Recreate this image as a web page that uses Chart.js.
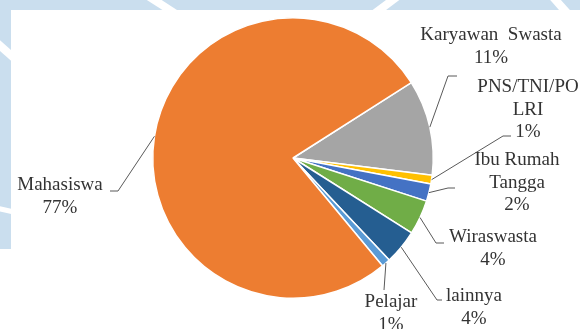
<!DOCTYPE html>
<html>
<head>
<meta charset="utf-8">
<script src="https://cdn.jsdelivr.net/npm/chart.js@4/dist/chart.umd.min.js"></script>
<style>
  html, body { margin: 0; padding: 0; }
  body { width: 580px; height: 329px; position: relative; overflow: hidden; background: #fff; }
  #bg { position: absolute; left: 0; top: 0; }
  #wrap { position: absolute; left: 0; top: 0; width: 580px; height: 329px; }
</style>
</head>
<body>
<!-- light blue page pattern peeking out at the top and left edge -->
<svg id="bg" width="580" height="329">
  <rect x="0" y="0" width="580" height="10" fill="#cadeee"/>
  <rect x="0" y="0" width="11" height="249" fill="#cadeee"/>
  <g stroke="#fff" stroke-width="8" fill="none">
    <line x1="148" y1="-4" x2="176" y2="14"/>
    <line x1="398" y1="-4" x2="374" y2="14"/>
    <line x1="552" y1="-4" x2="568" y2="14"/>
    <line x1="-4" y1="42" x2="14" y2="58"/>
    <line x1="-4" y1="208" x2="14" y2="212" stroke-width="5"/>
  </g>
  <rect x="11" y="10" width="569" height="319" fill="#fff"/>
</svg>
<div id="wrap"><canvas id="pie" width="580" height="329"></canvas></div>
<script>
// categories, going clockwise from the grey slice
const categories = [
  ['Karyawan  Swasta'],
  ['PNS/TNI/PO', 'LRI'],
  ['Ibu Rumah', 'Tangga'],
  ['Wiraswasta'],
  ['lainnya'],
  ['Pelajar'],
  ['Mahasiswa']
];
const percents = [11, 1, 2, 4, 4, 1, 77];
const sliceColors = ['#a5a5a5', '#ffc000', '#4472c4', '#70ad47', '#255e91', '#5b9bd5', '#ed7d31'];

// where each label sits and where its leader line bends / stops
const labelLayout = [
  { x: 491, y: 40,  bend: [448, 76],  end: [457, 76] },
  { x: 528, y: 92,  bend: [503, 136], end: [511, 136] },
  { x: 517, y: 165, bend: [448, 188], end: [455, 188] },
  { x: 493, y: 242, bend: [436, 243], end: [444, 243] },
  { x: 474, y: 301, bend: [437, 300], end: [442, 300] },
  { x: 391, y: 307, bend: [384, 290], end: [384, 290] },
  { x: 60,  y: 190, bend: [118, 191], end: [110, 191] }
];

const labelFont = '19px "Liberation Serif", "Times New Roman", serif';
const lineGap = 22.5;

const calloutLabels = {
  id: 'calloutLabels',
  afterDatasetsDraw(chart) {
    const ctx = chart.ctx;
    const arcs = chart.getDatasetMeta(0).data;
    const total = percents.reduce((a, b) => a + b, 0);
    ctx.save();
    arcs.forEach((arc, i) => {
      const p = arc.getProps(['x', 'y', 'startAngle', 'endAngle', 'outerRadius'], true);
      const mid = (p.startAngle + p.endAngle) / 2;
      const sx = p.x + Math.cos(mid) * p.outerRadius;
      const sy = p.y + Math.sin(mid) * p.outerRadius;
      const lay = labelLayout[i];

      ctx.strokeStyle = '#595959';
      ctx.lineWidth = 1;
      ctx.beginPath();
      ctx.moveTo(sx, sy);
      ctx.lineTo(lay.bend[0], lay.bend[1]);
      ctx.lineTo(lay.end[0], lay.end[1]);
      ctx.stroke();

      const lines = categories[i].concat([Math.round(percents[i] / total * 100) + '%']);
      ctx.font = labelFont;
      ctx.fillStyle = '#333333';
      ctx.textAlign = 'center';
      ctx.textBaseline = 'alphabetic';
      lines.forEach((t, k) => ctx.fillText(t, lay.x, lay.y + k * lineGap));
    });
    ctx.restore();
  }
};

new Chart(document.getElementById('pie'), {
  type: 'pie',
  data: {
    labels: categories,
    datasets: [{
      data: percents,
      backgroundColor: sliceColors,
      borderColor: '#ffffff',
      borderWidth: 1.5
    }]
  },
  options: {
    responsive: false,
    animation: false,
    rotation: 57.5,
    layout: { padding: { left: 152, top: 17, right: 146, bottom: 30 } },
    plugins: {
      legend: { display: false },
      tooltip: { enabled: false }
    }
  },
  plugins: [calloutLabels]
});
</script>
</body>
</html>
